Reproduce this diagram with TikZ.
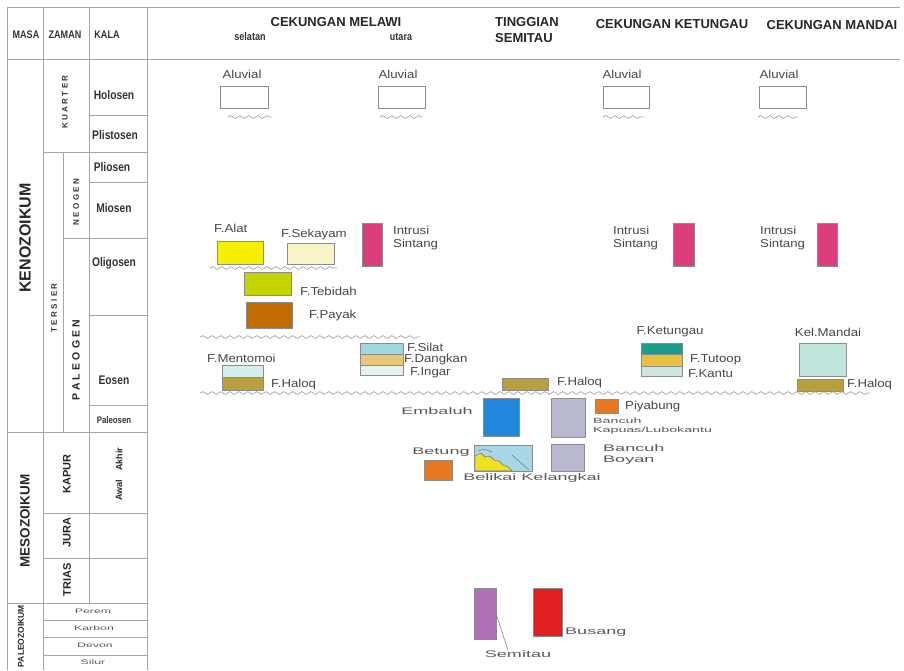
\documentclass[tikz,border=0pt]{standalone}
\usepackage{fontspec}
\setmainfont{Liberation Sans}
\newfontfamily\narrowfont[FakeStretch=0.82]{Liberation Sans}
\newfontfamily\labfont[FakeStretch=1.15]{Liberation Sans}
\newfontfamily\widefont[FakeStretch=1.9]{Liberation Sans}
\newfontfamily\spacedfont[LetterSpace=30]{Liberation Sans}
\usetikzlibrary{decorations.pathmorphing}
\definecolor{cAlat}{HTML}{F5F000}
\definecolor{cSek}{HTML}{F8F4C8}
\definecolor{cInt}{HTML}{DC3C7C}
\definecolor{cTeb}{HTML}{C4D400}
\definecolor{cPay}{HTML}{C06C00}
\definecolor{cMent}{HTML}{D4EEEA}
\definecolor{cHaloq}{HTML}{B8A040}
\definecolor{cSilat}{HTML}{A0D8E0}
\definecolor{cDang}{HTML}{E8C878}
\definecolor{cIngar}{HTML}{E4F2EA}
\definecolor{cKet}{HTML}{1A9E8C}
\definecolor{cTut}{HTML}{E6C040}
\definecolor{cKantu}{HTML}{CDE6DC}
\definecolor{cMandai}{HTML}{BEE6DC}
\definecolor{cEmb}{HTML}{2288DD}
\definecolor{cBan}{HTML}{B8B8D0}
\definecolor{cOr}{HTML}{E87820}
\definecolor{cBel}{HTML}{A8D8E8}
\definecolor{cYel}{HTML}{F0E020}
\definecolor{cSem}{HTML}{B070B8}
\definecolor{cBus}{HTML}{E02020}
\newcommand\geobox[6]{\node[gb,fill=#6,minimum width=#4pt,minimum height=#5pt,anchor=north west] (#1) at (#2,#3) {};}
\begin{document}
\begin{tikzpicture}[x=1pt,y=-1pt,
  tl/.style={draw=gray!70,line width=0.8pt},
  gb/.style={draw=black!45,line width=0.5pt,inner sep=0pt,outer sep=0pt},
  wavy/.style={draw=gray!70,line width=0.7pt,decorate,decoration={snake,segment length=9pt,amplitude=1.4pt}},
  hd/.style={inner sep=0pt,font=\bfseries\fontsize{13}{15}\selectfont,text=black!85},
  sub/.style={inner sep=0pt,font=\narrowfont\bfseries\fontsize{11}{13}\selectfont,text=black!80},
  th/.style={inner sep=0pt,font=\narrowfont\bfseries\fontsize{11}{13}\selectfont,text=black!80},
  kala/.style={inner sep=0pt,font=\narrowfont\bfseries\fontsize{12.5}{14}\selectfont,text=black!80},
  masa/.style={inner sep=0pt,rotate=90,font=\bfseries\fontsize{16}{18}\selectfont,text=black!85},
  zam/.style={inner sep=0pt,rotate=90,font=\spacedfont\bfseries\fontsize{8}{10}\selectfont,text=black!80},
  zamb/.style={inner sep=0pt,rotate=90,font=\bfseries\fontsize{11}{13}\selectfont,text=black!85},
  paleo/.style={inner sep=0pt,font=\widefont\fontsize{6.5}{8}\selectfont,text=black!65},
  lab/.style={inner sep=0pt,text=black!72,font=\labfont\fontsize{11.5}{13}\selectfont},
  wlab/.style={inner sep=0pt,text=black!65,font=\widefont\fontsize{9.5}{11}\selectfont},
  slab/.style={inner sep=0pt,text=black!65,font=\widefont\fontsize{7.5}{8.5}\selectfont},
  leader/.style={draw=black!55,line width=0.5pt}]
\useasboundingbox (0,0) rectangle (904,670);
\fill[white] (0,0) rectangle (904,670);
% table lines
\draw[tl] (7,7) -- (900,7);
\draw[tl] (7,59) -- (900,59);
\draw[tl] (7,7) -- (7,670);
\draw[tl] (43,7) -- (43,670);
\draw[tl] (89,7) -- (89,603);
\draw[tl] (147,7) -- (147,670);
\draw[tl] (63,152) -- (63,432);
\draw[tl] (89,115) -- (147,115);
\draw[tl] (43,152) -- (147,152);
\draw[tl] (89,182) -- (147,182);
\draw[tl] (63,238) -- (147,238);
\draw[tl] (89,315) -- (147,315);
\draw[tl] (89,405) -- (147,405);
\draw[tl] (7,432) -- (147,432);
\draw[tl] (43,513) -- (147,513);
\draw[tl] (43,558) -- (147,558);
\draw[tl] (7,603) -- (147,603);
\draw[tl] (43,620) -- (147,620);
\draw[tl] (43,637) -- (147,637);
\draw[tl] (43,655) -- (147,655);
% table headers
\node[th] (hmasa) at (26,35) {MASA};
\node[th] (hzaman) at (65,35) {ZAMAN};
\node[th] (hkala) at (107,35) {KALA};
% masa
\node[masa] (keno) at (25,238) {KENOZOIKUM};
\node[zamb,font=\bfseries\fontsize{13.5}{15}\selectfont] (meso) at (25,521) {MESOZOIKUM};
\node[zamb,font=\bfseries\fontsize{8.5}{10}\selectfont] (paleoz) at (21,636) {PALEOZOIKUM};
% zaman
\node[zam] (kuarter) at (65,102) {KUARTER};
\node[zam] (tersier) at (54,308) {TERSIER};
\node[zam] (neogen) at (76,202) {NEOGEN};
\node[zamb,font=\spacedfont\bfseries\fontsize{10.5}{12}\selectfont] (paleogen) at (76,360) {PALEOGEN};
\node[zamb] (kapur) at (67,474) {KAPUR};
\node[zamb] (jura) at (67,533) {JURA};
\node[zamb] (trias) at (67,580) {TRIAS};
% kala
\node[kala] (holosen) at (114,95) {Holosen};
\node[kala] (plistosen) at (115,135) {Plistosen};
\node[kala] (pliosen) at (112,167) {Pliosen};
\node[kala] (miosen) at (114,208) {Miosen};
\node[kala] (oligosen) at (114,263) {Oligosen};
\node[kala] (eosen) at (114,380) {Eosen};
\node[kala,font=\narrowfont\bfseries\fontsize{9.5}{11}\selectfont] (paleosen) at (114,420) {Paleosen};
\node[zamb,font=\bfseries\fontsize{9}{10}\selectfont] (akhir) at (119,459) {Akhir};
\node[zamb,font=\bfseries\fontsize{9}{10}\selectfont] (awal) at (119,490) {Awal};
\node[paleo] (perem) at (93,611) {Perem};
\node[paleo] (karbon) at (94,628) {Karbon};
\node[paleo] (devon) at (95,645) {Devon};
\node[paleo] (silur) at (93,662) {Silur};
% column headers
\node[hd] (cmel) at (336,22) {CEKUNGAN MELAWI};
\node[sub] (sel) at (250,37) {selatan};
\node[sub] (uta) at (401,37) {utara};
\node[hd,anchor=west] (ting) at (495,22) {TINGGIAN};
\node[hd,anchor=west] (semi) at (495,38) {SEMITAU};
\node[hd] (cket) at (672,24) {CEKUNGAN KETUNGAU};
\node[hd] (cman) at (832,25) {CEKUNGAN MANDAI};
% aluvial
\node[lab] (alSl) at (242,74) {Aluvial};
\node[lab] (alUl) at (398,74) {Aluvial};
\node[lab] (alKl) at (622,74) {Aluvial};
\node[lab] (alMl) at (779,74) {Aluvial};
\geobox{alS}{220}{86}{48}{22}{white}
\geobox{alU}{378}{86}{47}{22}{white}
\geobox{alK}{603}{86}{46}{22}{white}
\geobox{alM}{759}{86}{47}{22}{white}
\draw[wavy] (228,117) -- (272,117);
\draw[wavy] (380,117) -- (422,117);
\draw[wavy] (603,117) -- (643,117);
\draw[wavy] (758,117) -- (798,117);
% upper formations
\geobox{alat}{217}{241}{46}{23}{cAlat}
\geobox{sekayam}{287}{243}{47}{21}{cSek}
\geobox{intM}{362}{223}{20}{43}{cInt}
\geobox{intK}{673}{223}{21}{43}{cInt}
\geobox{intD}{817}{223}{20}{43}{cInt}
\node[lab,anchor=west] (alatl) at (214,228) {F.Alat};
\node[lab,anchor=west] (sekl) at (281,235) {F.Sekayam};
\node[lab,anchor=west,align=left] (intMl) at (393,238) {Intrusi\\Sintang};
\node[lab,anchor=west,align=left] (intKl) at (613,238) {Intrusi\\Sintang};
\node[lab,anchor=west,align=left] (intDl) at (760,238) {Intrusi\\Sintang};
\draw[wavy] (210,268) -- (337,268);
\geobox{tebidah}{244}{272}{47}{23}{cTeb}
\geobox{payak}{246}{302}{46}{26}{cPay}
\node[lab,anchor=west] (tebl) at (300,291) {F.Tebidah};
\node[lab,anchor=west] (payl) at (309,316) {F.Payak};
\draw[wavy] (200,337) -- (420,337);
% eosen formations
\geobox{mentA}{222}{365}{41}{12}{cMent}
\geobox{mentB}{222}{377}{41}{13}{cHaloq}
\node[lab,anchor=west] (mentl) at (207,358) {F.Mentomoi};
\node[lab,anchor=west] (haloq1) at (271,385) {F.Haloq};
\geobox{silat}{360}{343}{43}{11}{cSilat}
\geobox{dangkan}{360}{354}{43}{11}{cDang}
\geobox{ingar}{360}{365}{43}{10}{cIngar}
\node[lab,anchor=west] (silatl) at (407,347) {F.Silat};
\node[lab,anchor=west] (dangl) at (404,360) {F.Dangkan};
\node[lab,anchor=west] (ingarl) at (410,373) {F.Ingar};
\geobox{haloqS}{502}{378}{46}{12}{cHaloq}
\node[lab,anchor=west] (haloq2) at (557,383) {F.Haloq};
\geobox{ketA}{641}{343}{41}{11}{cKet}
\geobox{ketB}{641}{354}{41}{12}{cTut}
\geobox{ketC}{641}{366}{41}{10}{cKantu}
\node[lab] (ketl) at (670,332) {F.Ketungau};
\node[lab,anchor=west] (tutl) at (690,360) {F.Tutoop};
\node[lab,anchor=west] (kanl) at (688,374) {F.Kantu};
\geobox{mandai}{799}{343}{47}{33}{cMandai}
\geobox{haloqD}{797}{379}{46}{12}{cHaloq}
\node[lab] (mandl) at (828,332) {Kel.Mandai};
\node[lab,anchor=west] (haloq3) at (847,385) {F.Haloq};
\draw[wavy] (200,393) -- (870,393);
% pre-tertiary
\geobox{embaluh}{483}{398}{36}{38}{cEmb}
\geobox{kapuas}{551}{398}{34}{39}{cBan}
\geobox{piyabung}{595}{399}{23}{14}{cOr}
\geobox{boyan}{551}{444}{33}{27}{cBan}
\geobox{belikai}{474}{445}{58}{26}{cBel}
\fill[cYel,draw=black!60,line width=0.4pt] (475,456) -- (481,453) -- (485,457) -- (490,456) -- (494,460) -- (499,461) -- (503,465) -- (508,467) -- (512,470.5) -- (475,470.5) -- cycle;
\draw[black!60,line width=0.4pt] (478,451) -- (484,449) -- (492,452);
\draw[black!60,line width=0.4pt] (512,455) -- (520,462) -- (529,470);
\geobox{betung}{424}{460}{28}{20}{cOr}
\node[wlab] (embl) at (437,411) {Embaluh};
\node[lab,anchor=west] (piyl) at (625,407) {Piyabung};
\node[slab,anchor=west,align=left] (kapl) at (593,426) {Bancuh\\Kapuas/Lubokantu};
\node[wlab,anchor=west,align=left] (boyl) at (603,455) {Bancuh\\Boyan};
\node[wlab] (betl) at (441,452) {Betung};
\node[wlab] (bell) at (532,478) {Belikai Kelangkai};
\geobox{semitau}{474}{588}{22}{51}{cSem}
\geobox{busang}{533}{588}{29}{48}{cBus}
\node[wlab] (seml) at (518,654) {Semitau};
\node[wlab,anchor=west] (busl) at (565,632) {Busang};
\draw[leader] (semitau.east) -- ([xshift=-10pt]seml.north);
\end{tikzpicture}
\end{document}
